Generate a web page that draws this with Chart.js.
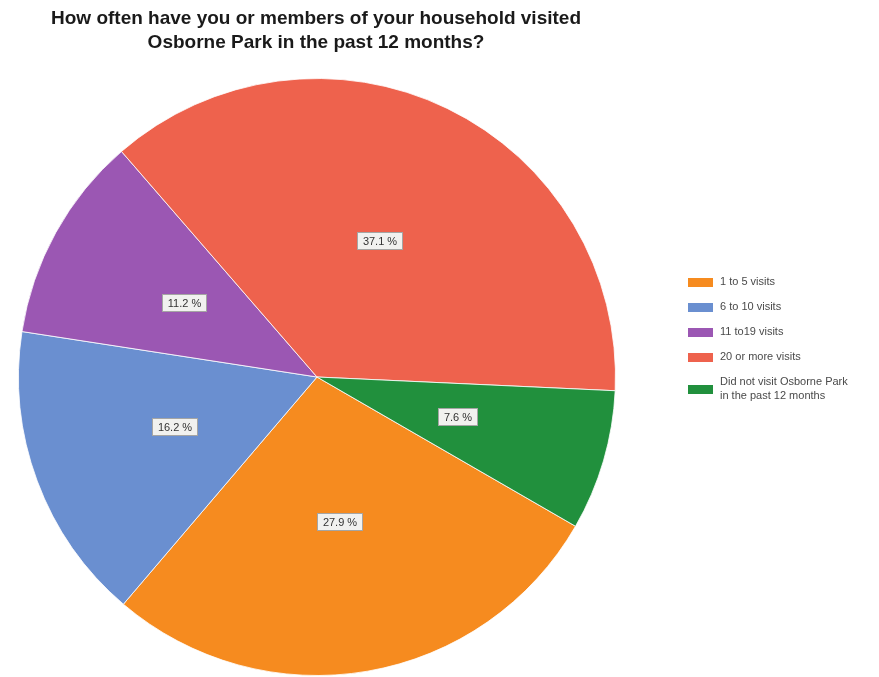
<!DOCTYPE html>
<html>
<head>
<meta charset="utf-8">
<title>Osborne Park visits</title>
<script src="https://cdn.jsdelivr.net/npm/chart.js@4/dist/chart.umd.min.js"></script>
<style>
  html, body { margin: 0; padding: 0; background: #ffffff; }
  #wrap { width: 879px; height: 677px; position: relative; }
</style>
</head>
<body>
<div id="wrap"><canvas id="chart" width="879" height="677"></canvas></div>
<script>
// Survey answers and their shares (percent of households)
const categories = [
  '1 to 5 visits',
  '6 to 10 visits',
  '11 to19 visits',
  '20 or more visits',
  ['Did not visit Osborne Park', 'in the past 12 months']
];
const shares = [27.9, 16.2, 11.2, 37.1, 7.6];
const titleLines = [
  'How often have you or members of your household visited',
  'Osborne Park in the past 12 months?'
];

const sliceColors = ['#F68B1F', '#6A8FD0', '#9B57B3', '#EE624D', '#21903D'];
const FONT = '"Liberation Sans", Arial, sans-serif';

// Title, value boxes and legend drawn on top of the pie
const decorations = {
  id: 'decorations',
  afterDraw(chart) {
    const ctx = chart.ctx;
    ctx.save();

    // Title
    ctx.fillStyle = '#1a1a1a';
    ctx.font = 'bold 19px ' + FONT;
    ctx.textAlign = 'center';
    ctx.textBaseline = 'middle';
    ctx.fillText(titleLines[0], 316, 19);
    ctx.fillText(titleLines[1], 316, 43);

    // Value boxes at the middle of each slice
    const meta = chart.getDatasetMeta(0);
    ctx.font = '11px ' + FONT;
    meta.data.forEach((arc, i) => {
      const p = arc.getProps(['x', 'y', 'startAngle', 'endAngle', 'outerRadius'], true);
      const mid = (p.startAngle + p.endAngle) / 2;
      const r = p.outerRadius * 0.5;
      const cx = p.x + Math.cos(mid) * r - 2;
      const cy = p.y + Math.sin(mid) * r - 2;
      const text = shares[i].toFixed(1) + ' %';
      const w = Math.round(ctx.measureText(text).width + 12);
      const h = 18;
      const bx = Math.round(cx - w / 2);
      const by = Math.round(cy - h / 2);
      ctx.fillStyle = '#f1f1ef';
      ctx.fillRect(bx, by, w, h);
      ctx.strokeStyle = 'rgba(90,90,90,0.5)';
      ctx.lineWidth = 1;
      ctx.strokeRect(bx + 0.5, by + 0.5, w - 1, h - 1);
      ctx.fillStyle = '#333333';
      ctx.textAlign = 'center';
      ctx.textBaseline = 'middle';
      ctx.fillText(text, bx + w / 2, by + h / 2 + 0.5);
    });

    // Legend on the right
    const rows = [282, 307, 332, 357, 389];
    ctx.font = '11px ' + FONT;
    ctx.textAlign = 'left';
    ctx.textBaseline = 'middle';
    categories.forEach((label, i) => {
      const y = rows[i];
      ctx.fillStyle = sliceColors[i];
      ctx.fillRect(688, y - 4, 25, 9);
      ctx.fillStyle = '#4a4a4a';
      const lines = Array.isArray(label) ? label : [label];
      const off = (lines.length - 1) * 7;
      lines.forEach((ln, k) => ctx.fillText(ln, 720, y - off + k * 14));
    });

    ctx.restore();
  }
};

new Chart(document.getElementById('chart'), {
  type: 'pie',
  data: {
    labels: categories,
    datasets: [{
      data: shares,
      backgroundColor: sliceColors,
      borderColor: 'rgba(255,255,255,0.8)',
      borderWidth: 1,
      hoverOffset: 0
    }]
  },
  options: {
    responsive: false,
    animation: false,
    rotation: 120,
    layout: { padding: { left: 18, right: 263, top: 78, bottom: 1 } },
    plugins: {
      legend: { display: false },
      title: { display: false },
      tooltip: { enabled: false }
    }
  },
  plugins: [decorations]
});
</script>
</body>
</html>
